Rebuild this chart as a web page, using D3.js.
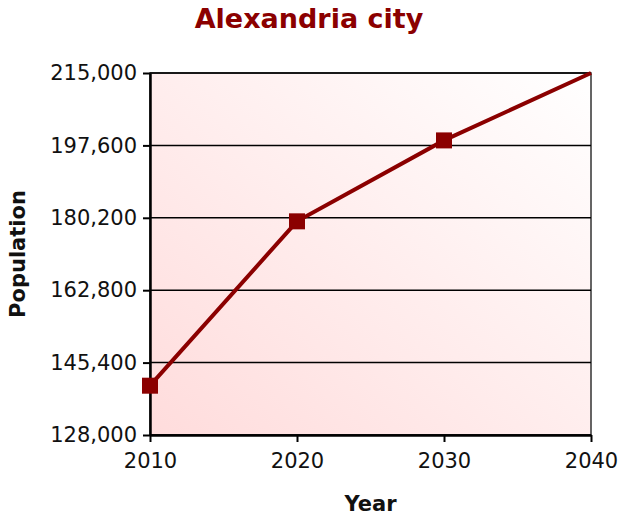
<!DOCTYPE html>
<html>
<head>
<meta charset="utf-8">
<script src="https://cdn.jsdelivr.net/npm/d3@7"></script>
<style>
  body { margin: 0; background: #fff; }
  text { font-family: "DejaVu Sans", Verdana, sans-serif; }
</style>
</head>
<body>
<div id="chart"></div>
<script>
// Data
var years = [2010, 2020, 2030, 2040];
var population = [139850, 179350, 198800, 215000];
var showMarker = [true, true, true, false];
var yTicks = [128000, 145400, 162800, 180200, 197600, 215000];
var xTicks = [2010, 2020, 2030, 2040];

var svgWidth = 618;
var svgHeight = 517;

var margin = { top: 73, right: 27, bottom: 82, left: 150 };
var width = svgWidth - margin.left - margin.right;
var height = svgHeight - margin.top - margin.bottom;

var svg = d3.select("#chart")
    .append("svg")
    .attr("width", svgWidth)
    .attr("height", svgHeight);

// background gradient, pink bottom-left to white top-right
var defs = svg.append("defs");
var grad = defs.append("linearGradient")
    .attr("id", "bg")
    .attr("x1", "0%").attr("y1", "100%")
    .attr("x2", "100%").attr("y2", "0%");
grad.append("stop").attr("offset", "0%").attr("stop-color", "#ffdcdc");
grad.append("stop").attr("offset", "100%").attr("stop-color", "#ffffff");

var chartGroup = svg.append("g")
    .attr("transform", `translate(${margin.left}, ${margin.top})`);

var xScale = d3.scaleLinear().domain([2010, 2040]).range([0, width]);
var yScale = d3.scaleLinear().domain([128000, 215000]).range([height, 0]);

chartGroup.append("rect")
    .attr("width", width)
    .attr("height", height)
    .attr("fill", "url(#bg)")
    .attr("stroke", "#333")
    .attr("stroke-width", 1.5);

// gridlines
chartGroup.selectAll(".grid")
    .data(yTicks)
    .enter()
    .append("line")
    .attr("x1", 0).attr("x2", width)
    .attr("y1", d => yScale(d)).attr("y2", d => yScale(d))
    .attr("stroke", "#000")
    .attr("stroke-width", 1.5);

// axes
var leftAxis = d3.axisLeft(yScale)
    .tickValues(yTicks)
    .tickFormat(d3.format(","))
    .tickSizeInner(7).tickSizeOuter(0).tickPadding(6);
var bottomAxis = d3.axisBottom(xScale)
    .tickValues(xTicks)
    .tickFormat(d3.format("d"))
    .tickSizeInner(7).tickSizeOuter(0).tickPadding(11);

var yAxisG = chartGroup.append("g").call(leftAxis);
var xAxisG = chartGroup.append("g")
    .attr("transform", `translate(0, ${height})`)
    .call(bottomAxis);

[yAxisG, xAxisG].forEach(function (g) {
    g.select(".domain").attr("stroke", "#000").attr("stroke-width", 2.5);
    g.selectAll(".tick line").attr("stroke", "#000").attr("stroke-width", 2);
    g.selectAll(".tick text")
        .attr("fill", "#111")
        .style("font-size", "21px")
        .style("font-family", "DejaVu Sans, Verdana, sans-serif");
});

// line
var points = years.map((y, i) => ({ year: y, value: population[i], marker: showMarker[i] }));
var line = d3.line()
    .x(d => xScale(d.year))
    .y(d => yScale(d.value));

chartGroup.append("path")
    .datum(points)
    .attr("d", line)
    .attr("fill", "none")
    .attr("stroke", "#8b0000")
    .attr("stroke-width", 4);

chartGroup.selectAll(".marker")
    .data(points.filter(d => d.marker))
    .enter()
    .append("rect")
    .attr("x", d => xScale(d.year) - 8)
    .attr("y", d => yScale(d.value) - 8)
    .attr("width", 16)
    .attr("height", 16)
    .attr("fill", "#8b0000");

// title and axis labels
svg.append("text")
    .attr("x", svgWidth / 2)
    .attr("y", 28)
    .attr("text-anchor", "middle")
    .style("font-size", "27px")
    .style("font-weight", "bold")
    .attr("fill", "#8b0000")
    .text("Alexandria city");

svg.append("text")
    .attr("x", margin.left + width / 2)
    .attr("y", 511)
    .attr("text-anchor", "middle")
    .style("font-size", "21px")
    .style("font-weight", "bold")
    .attr("fill", "#111")
    .text("Year");

svg.append("text")
    .attr("transform", `translate(25, ${margin.top + height / 2}) rotate(-90)`)
    .attr("text-anchor", "middle")
    .style("font-size", "21px")
    .style("font-weight", "bold")
    .attr("fill", "#111")
    .text("Population");
</script>
</body>
</html>
